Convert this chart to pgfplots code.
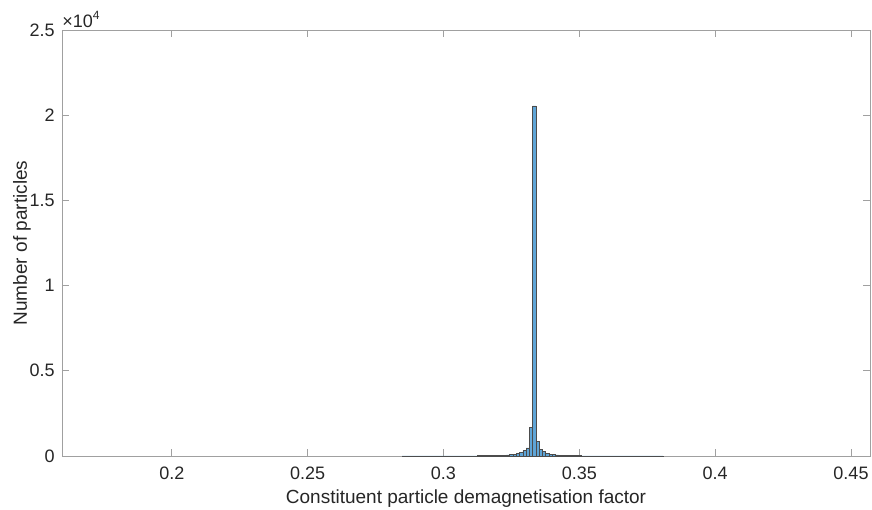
\documentclass[border=0pt]{standalone}
\usepackage{fontspec}
\setmainfont{Liberation Sans}
\usepackage{pgfplots}
\pgfplotsset{compat=1.18}
\definecolor{barfill}{RGB}{95,165,215}
\definecolor{axgray}{RGB}{160,160,160}
\definecolor{txt}{RGB}{38,38,38}

\begin{document}
\begin{tikzpicture}
\begin{axis}[
  name=ax,
  scale only axis,
  width=404pt, height=213pt,
  xmin=0.1596, xmax=0.457,
  ymin=0, ymax=25000,
  xtick={0.2,0.25,0.3,0.35,0.4,0.45},
  xticklabels={0.2,0.25,0.3,0.35,0.4,0.45},
  ytick={0,5000,10000,15000,20000,25000},
  yticklabels={0,0.5,1,1.5,2,2.5},
  scaled y ticks=false,
  tick align=inside,
  major tick length=3.5pt,
  axis line style={axgray, line width=0.4pt},
  every tick/.style={axgray, line width=0.4pt},
  tick label style={font=\fontsize{9}{10}\selectfont, text=txt},
  xticklabel style={anchor=base, yshift=-11.5pt},
  yticklabel style={anchor=east, inner sep=0pt, xshift=-3.5pt},
  /pgf/number format/assume math mode=true,
  xlabel={Constituent particle demagnetisation factor},
  label style={font=\fontsize{9.5}{11}\selectfont, text=txt},
  xlabel style={at={(axis description cs:0.5,0)}, anchor=base, yshift=-23.5pt},
  clip=false,
]
\addplot[ybar interval, fill=barfill, draw=black!70, line width=0.25pt] coordinates {
  (0.2848,1) (0.2860,1) (0.2872,1) (0.2884,2) (0.2896,2) (0.2908,2)
  (0.2920,2) (0.2932,3) (0.2944,3) (0.2956,3) (0.2968,4) (0.2980,4)
  (0.2992,4) (0.3004,5) (0.3016,5)
  (0.3028,6) (0.3040,7) (0.3052,8) (0.3064,9) (0.3076,10) (0.3088,11)
  (0.3100,12) (0.3112,14) (0.3124,16) (0.3136,18) (0.3148,20) (0.3160,23)
  (0.3172,26) (0.3184,30) (0.3196,34) (0.3208,40) (0.3220,48) (0.3232,60)
  (0.3244,75) (0.3256,100) (0.3268,140) (0.3280,200) (0.3292,310) (0.3304,470)
  (0.3316,1700) (0.3328,20550) (0.3340,860) (0.3352,370) (0.3364,250) (0.3376,160)
  (0.3388,110) (0.3400,80) (0.3412,60) (0.3424,45) (0.3436,35) (0.3448,30)
  (0.3460,26) (0.3472,22) (0.3484,19) (0.3496,16) (0.3508,14) (0.3520,12)
  (0.3532,10) (0.3544,9) (0.3556,8) (0.3568,7) (0.3580,6) (0.3592,5)
  (0.3604,5) (0.3616,4) (0.3628,4) (0.3640,3) (0.3652,3) (0.3664,3)
  (0.3676,2) (0.3688,2) (0.3700,2) (0.3712,2) (0.3724,1) (0.3736,1)
  (0.3748,1) (0.3760,1) (0.3772,1) (0.3784,1) (0.3796,1) (0.3808,0)
};
\node[anchor=base west, inner sep=0pt, text=txt, font=\fontsize{9}{10}\selectfont]
  at ([yshift=1.5pt]rel axis cs:0,1) {\texttimes10\textsuperscript{4}};
\node[rotate=90, anchor=base, inner sep=0pt, text=txt, font=\fontsize{9.5}{11}\selectfont]
  at ([xshift=-17.5pt]rel axis cs:0,0.5) {Number of particles};
\end{axis}
\pgfresetboundingbox
\path[use as bounding box] ([xshift=-31pt,yshift=-26.5pt]ax.south west) rectangle ([xshift=1pt,yshift=15pt]ax.north east);
\end{tikzpicture}
\end{document}
